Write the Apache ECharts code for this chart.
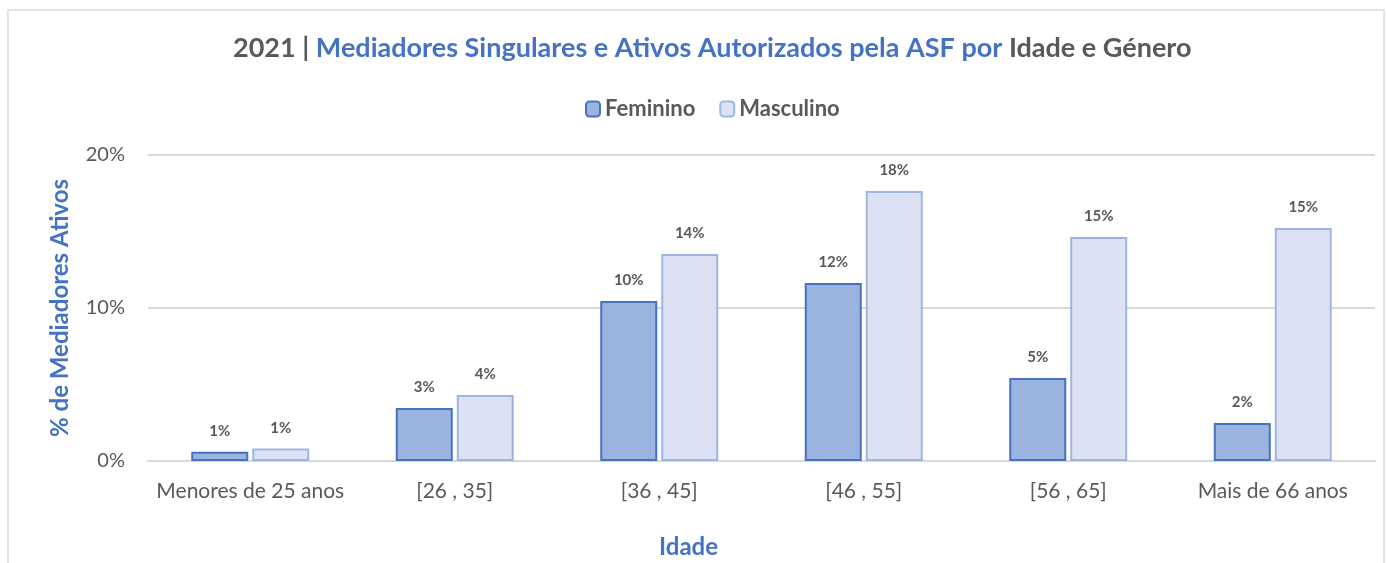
<!DOCTYPE html>
<html>
  <head>
    <meta charset="utf-8" />
    <script src="https://cdn.jsdelivr.net/npm/echarts@6/dist/echarts.min.js"></script>
  </head>
  <body style="margin:0;background:#fff;">
    <div id="main" style="width: 1386px;height:563px;"></div>
    <script type="text/javascript">
      // categorias e valores (% de mediadores ativos)
      var idades = ['Menores de 25 anos', '[26 , 35]', '[36 , 45]', '[46 , 55]', '[56 , 65]', 'Mais de 66 anos'];
      var feminino = [0.6, 3.46, 10.46, 11.63, 5.42, 2.48];
      var masculino = [0.82, 4.31, 13.53, 17.65, 14.64, 15.23];
      var yTicks = [0, 10, 20];

      var grey = '#595959';
      var blue = '#4472c4';
      var fontF = 'Lato';

      var myChart = echarts.init(document.getElementById('main'));
      var option = {
        backgroundColor: '#fff',
        textStyle: { fontFamily: fontF },
        graphic: [{
          type: 'rect',
          shape: { x: 8, y: 10, width: 1376, height: 560 },
          style: { fill: 'none', stroke: '#d9d9d9', lineWidth: 1.5 },
          silent: true
        }],
        title: {
          left: 228,
          top: 30,
          text: '{g|2021 | }{b|Mediadores Singulares e Ativos Autorizados pela ASF por }{g|Idade e Género}',
          textStyle: {
            rich: {
              g: { color: grey, fontSize: 27, fontWeight: 'bold', fontFamily: fontF },
              b: { color: blue, fontSize: 27, fontWeight: 'bold', fontFamily: fontF }
            }
          }
        },
        legend: {
          top: 93,
          left: 580,
          itemWidth: 14,
          itemHeight: 15,
          itemGap: 24,
          textStyle: { color: grey, fontSize: 22, fontWeight: 'bold', fontFamily: fontF },
          data: ['Feminino', 'Masculino']
        },
        grid: { left: 148, right: 11, top: 155, bottom: 102, containLabel: false, outerBoundsMode: 'none' },
        xAxis: {
          type: 'category',
          data: idades,
          name: 'Idade',
          nameLocation: 'middle',
          nameGap: 74,
          nameTextStyle: { color: blue, fontSize: 24, fontWeight: 'bold', fontFamily: fontF, padding: [0, 146, 0, 0] },
          axisTick: { show: false },
          axisLine: { lineStyle: { color: '#d9d9d9', width: 2 } },
          axisLabel: { color: grey, fontSize: 21, margin: 20, interval: 0, fontFamily: fontF }
        },
        yAxis: {
          type: 'value',
          min: yTicks[0],
          max: yTicks[yTicks.length - 1],
          interval: 10,
          name: '% de Mediadores Ativos',
          nameLocation: 'middle',
          nameGap: 76,
          nameTextStyle: { color: blue, fontSize: 24, fontWeight: 'bold', fontFamily: fontF },
          axisLabel: { color: grey, fontSize: 20, margin: 23, formatter: '{value}%', fontFamily: fontF },
          splitLine: { lineStyle: { color: '#d9d9d9', width: 2 } }
        },
        series: [
          {
            name: 'Feminino',
            type: 'bar',
            data: feminino,
            barWidth: 57,
            barGap: '7%',
            itemStyle: { color: '#9bb3df', borderColor: blue, borderWidth: 2 },
            label: {
              show: true, position: 'top', distance: 13,
              color: grey, fontSize: 15, fontWeight: 'bold', fontFamily: fontF,
              formatter: function (p) { return Math.round(p.value) + '%'; }
            }
          },
          {
            name: 'Masculino',
            type: 'bar',
            data: masculino,
            barWidth: 57,
            itemStyle: { color: '#dce2f3', borderColor: '#9db5e6', borderWidth: 2 },
            label: {
              show: true, position: 'top', distance: 13,
              color: grey, fontSize: 15, fontWeight: 'bold', fontFamily: fontF,
              formatter: function (p) { return Math.round(p.value) + '%'; }
            }
          }
        ]
      };
      myChart.setOption(option);
    </script>
  </body>
</html>
